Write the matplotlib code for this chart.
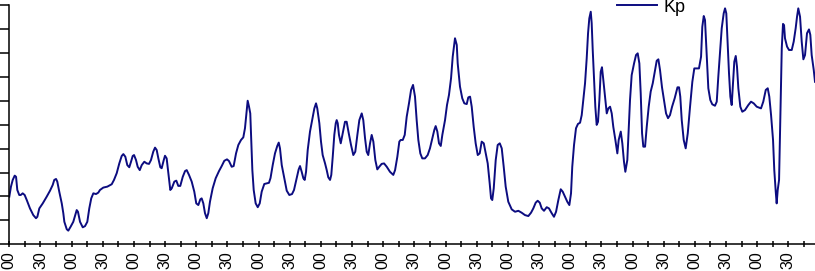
import matplotlib
matplotlib.use("Agg")
import matplotlib.pyplot as plt

# time in minutes from the first tick, Kp values
minutes = [
    0, 1.6, 3.3, 5.2, 6.5, 7.7, 9.6, 11.0, 12.9, 14.8,
    16.8, 19.9, 23.1, 25.7, 27.0, 28.9, 32.2, 36.0, 39.2, 41.8,
    43.3, 45.0, 46.2, 48.1, 50.5, 52.0, 53.0, 55.3, 56.8, 59.1,
    61.6, 63.5, 64.9, 66.1, 68.1, 70.7, 72.9, 75.1, 77.0, 78.9,
    80.9, 83.5, 85.7, 87.3, 90.5, 94.4, 98.6, 100.8, 103.4, 105.9,
    108.2, 109.8, 111.7, 113.6, 115.5, 117.2, 118.8, 120.1, 122.0, 123.6,
    125.6, 127.5, 130.0, 132.3, 134.5, 136.4, 138.6, 140.3, 141.9, 143.5,
    145.4, 146.7, 148.7, 149.9, 151.5, 153.1, 155.0, 156.4, 158.9, 160.8,
    162.7, 164.6, 167.0, 169.2, 170.8, 173.0, 175.6, 178.1, 180.0, 182.0,
    183.9, 185.2, 186.8, 188.4, 190.1, 191.6, 193.2, 195.8, 198.7, 201.9,
    204.5, 207.0, 209.6, 211.5, 214.1, 216.0, 218.3, 220.5, 223.1, 225.3,
    226.9, 228.6, 229.5, 230.8, 232.0, 233.0, 234.0, 235.3, 237.2, 239.2,
    241.1, 243.0, 245.5, 248.1, 250.0, 251.5, 253.6, 255.8, 258.0, 259.4, 260.6,
    262.3, 264.5, 267.1, 269.6, 272.2, 274.1, 276.7, 278.6, 279.9, 281.5,
    283.1, 284.4, 285.7, 287.3, 289.5, 291.7, 293.7, 295.3, 296.5, 298.5,
    300.1, 301.7, 304.0, 305.6, 307.1, 308.8, 310.0, 311.4, 312.9, 314.3,
    315.2, 316.2, 317.4, 319.1, 321.0, 323.2, 324.8, 326.8, 329.0, 331.2,
    333.1, 335.1, 337.0, 339.3, 340.8, 342.5, 344.1, 345.6, 347.3, 348.9,
    350.5, 352.4, 354.3, 356.2, 358.5, 360.8, 363.4, 366.5, 369.7, 371.4,
    373.6, 375.5, 376.8, 378.8, 380.7, 382.6, 384.8, 386.8, 388.7, 390.6,
    392.2, 393.8, 395.7, 397.6, 400.2, 402.8, 405.0, 407.3, 409.2, 410.5,
    412.1, 413.7, 415.4, 416.9, 419.5, 421.4, 423.3, 425.3, 426.9, 429.1,
    430.8, 431.7, 433.9, 436.1, 438.1, 440.4, 441.9, 443.6, 445.2, 447.1,
    449.0, 451.0, 452.9, 454.8, 456.8, 458.7, 460.6, 462.5, 463.8, 465.0,
    466.4, 468.3, 470.2, 472.2, 474.1, 476.0, 477.9, 480.4, 483.7, 486.9,
    490.1, 493.3, 496.5, 499.7, 502.3, 504.5, 506.8, 508.7, 510.7, 512.6,
    514.8, 517.4, 519.6, 522.2, 524.4, 526.4, 528.6, 530.9, 532.8, 535.0,
    537.2, 539.2, 540.8, 542.0, 543.7, 545.6, 547.5, 549.5, 551.1, 552.6,
    554.3, 555.9, 557.2, 558.4, 559.8, 560.7, 561.7, 562.9, 564.2, 565.5,
    566.8, 568.1, 569.4, 570.6, 571.9, 573.5, 575.2, 576.7, 578.4, 580.0,
    581.5, 583.5, 585.4, 586.7, 588.7, 590.2, 591.8, 593.1, 595.0, 596.4,
    597.6, 599.2, 601.5, 603.4, 605.0, 606.6, 607.9, 609.2, 610.4, 612.1,
    613.7, 615.6, 617.5, 619.5, 621.4, 623.3, 624.9, 626.5, 628.4, 630.3,
    632.3, 634.2, 636.1, 638.1, 640.6, 643.3, 644.8, 646.0, 647.4, 649.3,
    651.2, 653.2, 655.4, 657.6, 659.5, 661.8, 664.0, 666.0, 667.2, 668.6,
    669.8, 671.5, 673.0, 674.9, 676.8, 679.4, 681.1, 682.6, 684.3, 685.9,
    687.8, 689.1, 690.3, 691.7, 692.9, 694.2, 695.5, 696.8, 698.0, 699.4,
    700.6, 701.9, 703.8, 705.7, 708.3, 711.5, 714.1, 716.7, 719.6, 723.7,
    725.9, 728.3, 730.2, 731.7, 733.4, 735.3, 736.5, 737.9, 738.8, 739.8,
    741.1, 742.0, 743.0, 743.7, 744.9, 745.9, 746.8, 748.8, 750.7, 753.3,
    755.2, 757.1, 758.4, 759.6, 761.3, 762.9, 764.5, 766.1, 768.0, 769.9,
    771.2, 772.5, 774.5, 775.7,
]

kp = [
    1.99, 2.41, 2.69, 2.87, 2.82, 2.27, 2.06, 2.06, 2.13, 2.06,
    1.85, 1.50, 1.22, 1.09, 1.15, 1.50, 1.71, 1.99, 2.24, 2.48,
    2.69, 2.73, 2.62, 2.20, 1.71, 1.30, 0.94, 0.63, 0.57, 0.74,
    0.94, 1.22, 1.43, 1.36, 0.94, 0.71, 0.76, 0.94, 1.50, 1.92,
    2.13, 2.10, 2.16, 2.27, 2.37, 2.41, 2.51, 2.69, 2.97, 3.38,
    3.69, 3.77, 3.66, 3.31, 3.22, 3.45, 3.69, 3.73, 3.52, 3.24,
    3.10, 3.31, 3.45, 3.38, 3.36, 3.52, 3.87, 4.04, 3.94, 3.59,
    3.22, 3.18, 3.52, 3.70, 3.59, 2.97, 2.27, 2.34, 2.62, 2.66,
    2.44, 2.44, 2.82, 3.06, 3.10, 2.90, 2.62, 2.20, 1.71, 1.64,
    1.88, 1.92, 1.71, 1.30, 1.09, 1.30, 1.78, 2.34, 2.76, 3.06,
    3.27, 3.49, 3.55, 3.48, 3.24, 3.27, 3.80, 4.15, 4.36, 4.47,
    4.85, 5.61, 6.00, 5.75, 5.47, 4.22, 3.10, 2.27, 1.71, 1.55,
    1.71, 2.20, 2.52, 2.55, 2.57, 2.77, 3.31, 3.80, 4.11, 4.25, 4.01,
    3.31, 2.82, 2.24, 2.06, 2.10, 2.27, 2.76, 3.13, 3.27, 3.03,
    2.76, 2.69, 3.03, 3.94, 4.71, 5.22, 5.68, 5.89, 5.68, 5.06,
    4.29, 3.73, 3.38, 3.10, 2.80, 2.69, 2.90, 3.66, 4.57, 5.06,
    5.19, 5.06, 4.57, 4.22, 4.64, 5.12, 5.12, 4.64, 4.15, 3.73,
    3.87, 4.57, 5.19, 5.47, 5.19, 4.43, 3.87, 3.73, 4.22, 4.57,
    4.29, 3.52, 3.13, 3.24, 3.36, 3.38, 3.24, 3.03, 2.90, 3.10,
    3.66, 4.29, 4.36, 4.36, 4.57, 5.33, 5.89, 6.45, 6.66, 6.17,
    5.19, 4.36, 3.80, 3.59, 3.59, 3.73, 4.01, 4.43, 4.78, 4.94,
    4.71, 4.22, 4.11, 4.57, 5.19, 5.82, 6.24, 6.94, 7.84, 8.61,
    8.33, 7.56, 6.59, 6.10, 5.89, 5.86, 6.14, 6.17, 5.75, 4.91,
    4.22, 3.73, 3.80, 4.29, 4.22, 3.80, 3.38, 2.55, 1.92, 1.85,
    2.34, 3.52, 4.15, 4.22, 4.01, 3.24, 2.41, 1.78, 1.46, 1.36,
    1.40, 1.32, 1.22, 1.18, 1.32, 1.50, 1.74, 1.82, 1.74, 1.50,
    1.40, 1.55, 1.50, 1.30, 1.15, 1.36, 1.85, 2.30, 2.20, 1.99,
    1.78, 1.64, 2.13, 3.24, 4.15, 4.85, 5.03, 5.08, 5.40, 6.03,
    6.73, 7.77, 8.82, 9.44, 9.72, 9.24, 8.12, 7.00, 5.75, 4.99,
    5.12, 6.03, 7.21, 7.40, 6.87, 6.17, 5.47, 5.68, 5.75, 5.47,
    4.91, 4.36, 3.80, 4.36, 4.71, 4.22, 3.45, 3.03, 3.52, 4.91,
    6.03, 7.07, 7.56, 7.91, 7.98, 7.56, 6.31, 4.64, 4.08, 4.08,
    4.91, 5.75, 6.38, 6.73, 7.21, 7.67, 7.73, 7.28, 6.56, 6.03,
    5.47, 5.27, 5.40, 5.75, 6.10, 6.56, 6.56, 6.17, 5.19, 4.36,
    4.01, 4.64, 5.75, 6.79, 7.35, 7.35, 7.35, 7.84, 9.09, 9.54,
    9.37, 7.84, 6.52, 6.03, 5.85, 5.79, 5.96, 7.00, 8.05, 9.03,
    9.65, 9.86, 9.65, 8.26, 7.15, 6.17, 5.82, 6.73, 7.63, 7.87,
    7.42, 6.52, 5.75, 5.54, 5.61, 5.82, 5.96, 5.89, 5.75, 5.68,
    5.96, 6.45, 6.52, 6.17, 5.40, 4.36, 3.10, 2.20, 1.71, 2.27,
    2.69, 4.64, 6.73, 8.19, 9.21, 9.16, 8.61, 8.26, 8.12, 8.12,
    8.47, 9.03, 9.51, 9.86, 9.51, 8.47, 7.73, 7.91, 8.82, 8.98,
    8.75, 7.91, 7.28, 6.79,
]

tick_minutes = list(range(0, 766, 15))
tick_labels = ["00" if m % 60 == 0 else ("30" if m % 60 == 30 else "") for m in tick_minutes]
y_ticks = list(range(0, 11))
series_name = "Kp"

W, H = 815, 271
fig = plt.figure(figsize=(W / 100, H / 100), dpi=100)
ax = fig.add_axes([9.3 / W, (H - 244.3) / H, 1 - 9.3 / W, (244.3 - 5) / H])

line, = ax.plot(minutes, kp, color="#0c0c80", linewidth=1.4, label=series_name)

ax.set_xlim(0, 775.7)
ax.set_ylim(0, 10)
for s in ("top", "right"):
    ax.spines[s].set_visible(False)
for s in ("left", "bottom"):
    ax.spines[s].set_linewidth(1.1)
    ax.spines[s].set_color("black")

ax.set_xticks(tick_minutes)
ax.set_xticklabels(tick_labels, rotation=90, fontsize=11.5, family="Liberation Sans")
ax.tick_params(axis="x", direction="inout", length=4.5, width=1.1, pad=3)
ax.set_yticks(y_ticks)
ax.tick_params(axis="y", direction="out", length=7.5, width=1.1, labelleft=False)

fig.legend(handles=[line], labels=[series_name], loc="center left",
           bbox_to_anchor=(617 / W, 1 - 7 / H), frameon=False,
           borderpad=0, borderaxespad=0, handlelength=2.2, handletextpad=0.4,
           prop={"family": "Liberation Sans", "size": 13})

fig.savefig("out.png", dpi=100)
